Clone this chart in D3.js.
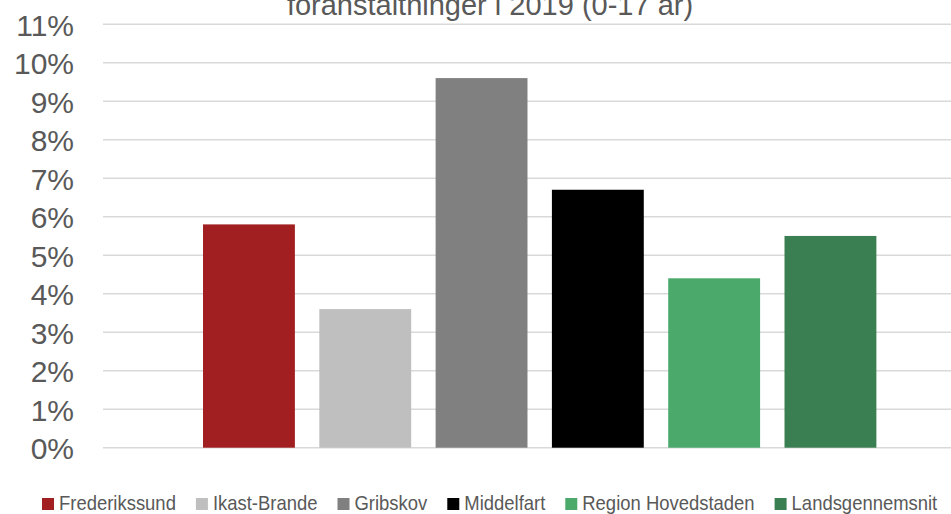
<!DOCTYPE html>
<html><head><meta charset="utf-8">
<script src="https://cdn.jsdelivr.net/npm/d3@7"></script>
<style>
html,body{margin:0;padding:0;background:#fff;overflow:hidden;}
svg{display:block;}
</style></head>
<body>
<svg id="chart" width="951" height="514"></svg>
<script>
const categories = ["Frederikssund","Ikast-Brande","Gribskov","Middelfart","Region Hovedstaden","Landsgennemsnit"];
const values = [5.8, 3.6, 9.6, 6.7, 4.4, 5.5];
const colors = ["#a11f21","#bfbfbf","#808080","#000000","#4aa96b","#3a7f51"];
const yTicks = [0,1,2,3,4,5,6,7,8,9,10,11];
const titleText = "foranstaltninger i 2019 (0-17 år)";

const svg = d3.select("#chart");
const W = 951;
const y = d3.scaleLinear().domain([0, 11]).range([447.7, 24.2]);
const x = d3.scaleBand().domain(categories).range([190.8, 888.6]).paddingInner(0.21).paddingOuter(0.105);

// title (partly cut at the top, as in the reference)
svg.append("text").attr("x", 490).attr("y", 15).attr("text-anchor","middle")
  .attr("font-family","Liberation Sans, Arial, sans-serif").attr("font-size", 29)
  .attr("fill","#595959").text(titleText);

// gridlines
svg.append("g").selectAll("line").data(yTicks).join("line")
  .attr("x1", 103).attr("x2", W)
  .attr("y1", d => y(d)).attr("y2", d => y(d))
  .attr("stroke", "#d9d9d9").attr("stroke-width", 1.5);

// y labels
const yAxis = d3.axisLeft(y).tickValues(yTicks).tickFormat(d => d + "%").tickSize(0).tickPadding(0);
const ga = svg.append("g").attr("transform","translate(74,0)").call(yAxis);
ga.select(".domain").remove();
ga.selectAll("text").attr("font-family","Liberation Sans, Arial, sans-serif")
  .attr("font-size", 30).attr("fill","#595959").attr("dy","0.36em");

// bars
svg.append("g").selectAll("rect").data(categories).join("rect")
  .attr("x", d => x(d)).attr("width", x.bandwidth())
  .attr("y", (d,i) => y(values[i])).attr("height", (d,i) => y(0) - y(values[i]))
  .attr("fill", (d,i) => colors[i]);

// legend (condensed text)
const lg = svg.append("g");
const sx = 0.9;
let lx = 42;
const ly = 504;
categories.forEach((c,i) => {
  const g = lg.append("g");
  g.append("rect").attr("x", lx).attr("y", ly-6).attr("width", 12).attr("height", 12).attr("fill", colors[i]);
  const t = g.append("text").attr("transform", `translate(${lx+17},${ly + 6.3}) scale(${sx},1)`)
    .attr("font-family","Liberation Sans, Arial, sans-serif")
    .attr("font-size", 20.5).attr("fill","#595959").text(c);
  const w = t.node().getComputedTextLength() * sx;
  lx = lx + 17 + w + 20;
});
</script>
</body></html>
